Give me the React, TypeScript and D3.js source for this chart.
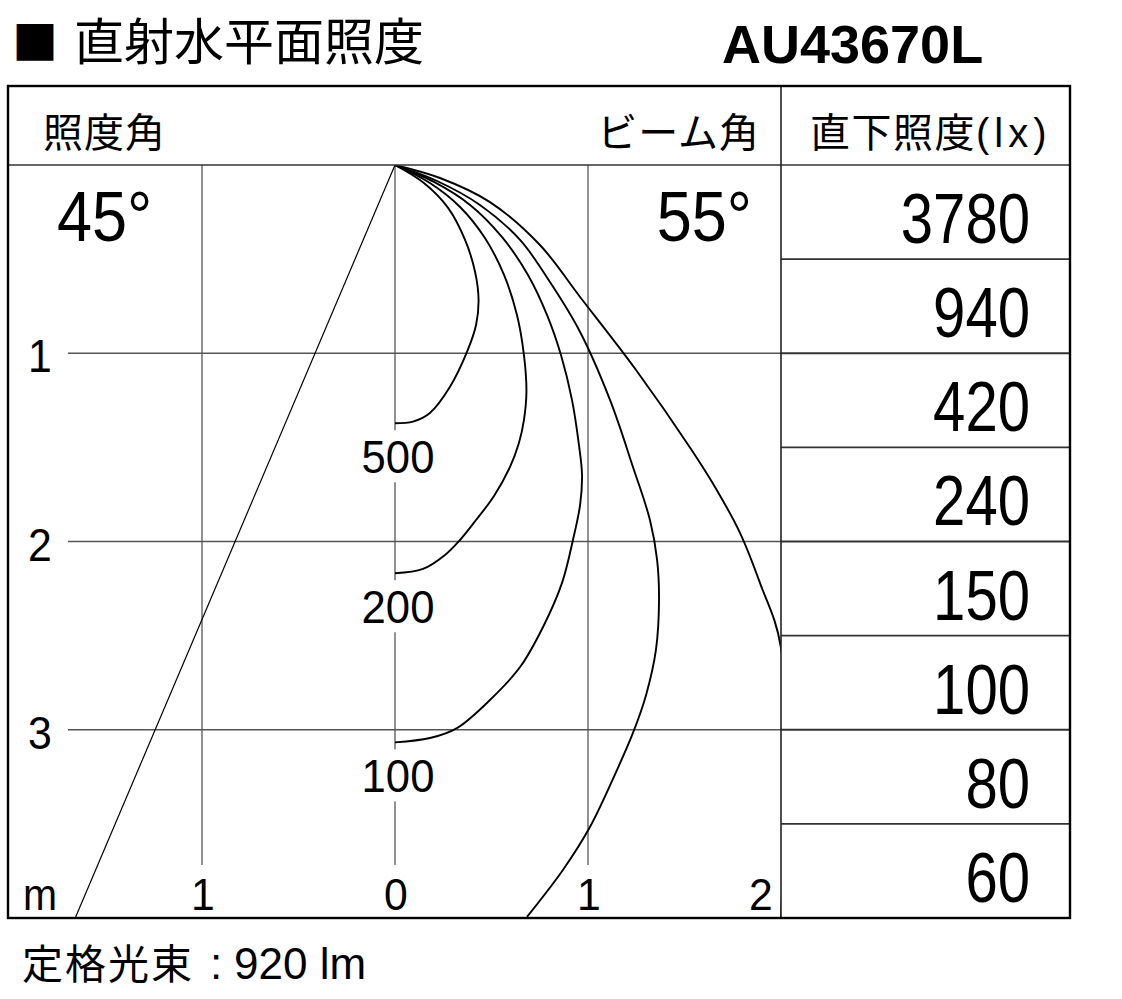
import React from 'react';
import * as d3 from 'd3';

// ---- content ----
const titleText = '直射水平面照度';
const modelName = 'AU43670L';
const illuminanceAngle = 45; // 照度角 (deg)
const beamAngle = 55; // ビーム角 (deg)
const centerLux = ['3780', '940', '420', '240', '150', '100', '80', '60'];
const depthTicks = [1, 2, 3];
const widthTicks = [-1, 0, 1, 2];
const ratedFlux = 920;

// isolux contours: [horizontal distance (m), depth below fixture (m)]
const lux500: [number, number][] = [
  [0, 0], [0.15, 0.096], [0.275, 0.228], [0.363, 0.398], [0.415, 0.568],
  [0.433, 0.717], [0.42, 0.85], [0.373, 0.993], [0.285, 1.178], [0.181, 1.317],
  [0.093, 1.363], [0, 1.372],
];
const lux200: [number, number][] = [
  [0, 0], [0.181, 0.096], [0.337, 0.223], [0.466, 0.388], [0.565, 0.584],
  [0.632, 0.797], [0.668, 1.009], [0.681, 1.206], [0.668, 1.355], [0.642, 1.477],
  [0.596, 1.604], [0.513, 1.758], [0.42, 1.886], [0.337, 1.992], [0.259, 2.072],
  [0.145, 2.146], [0, 2.169],
];
const lux100: [number, number][] = [
  [0, 0], [0.202, 0.09], [0.389, 0.212], [0.554, 0.382], [0.689, 0.584],
  [0.788, 0.797], [0.86, 1.009], [0.917, 1.248], [0.953, 1.487], [0.969, 1.647],
  [0.959, 1.806], [0.922, 1.992], [0.865, 2.221], [0.767, 2.454], [0.648, 2.667],
  [0.492, 2.842], [0.321, 2.991], [0.181, 3.044], [0, 3.067],
];
const lux50: [number, number][] = [
  [0, 0], [0.218, 0.085], [0.44, 0.212], [0.648, 0.398], [0.803, 0.622],
  [0.959, 0.887], [1.114, 1.248], [1.233, 1.604], [1.321, 1.886], [1.358, 2.098],
  [1.368, 2.311], [1.352, 2.576], [1.301, 2.815], [1.233, 3.017], [1.15, 3.214],
  [1.01, 3.517], [0.87, 3.745], [0.684, 3.994],
];
const lux20: [number, number][] = [
  [0, 0], [0.233, 0.069], [0.492, 0.197], [0.751, 0.425], [0.959, 0.701],
  [1.249, 1.089], [1.537, 1.514], [1.667, 1.726], [1.788, 1.955], [1.891, 2.22],
  [2.0, 2.566], [2.0, 4.0],
];

const contours = [
  { label: '500', points: lux500 },
  { label: '200', points: lux200 },
  { label: '100', points: lux100 },
  { label: '', points: lux50 },
  { label: '', points: lux20 },
];

// ---- layout ----
const W = 1122;
const H = 999;
const frameL = 8;
const frameT = 86;
const frameR = 1070;
const frameB = 918;
const headerB = 165;
const tableL = 781;

const CJK = '"Noto Sans CJK JP", "Noto Sans CJK SC", sans-serif';
const LAT = '"Liberation Sans", Arial, sans-serif';

export default function App() {
  const x = d3.scaleLinear().domain([-2, 2]).range([9, tableL]);
  const y = d3.scaleLinear().domain([0, 4]).range([headerB, frameB]);
  const rows = d3
    .scaleBand<number>()
    .domain(centerLux.map((_, i) => i))
    .range([headerB, frameB]);

  const line = d3
    .line<[number, number]>()
    .x((d) => x(d[0]))
    .y((d) => y(d[1]))
    .curve(d3.curveCatmullRom.alpha(0.5));

  const halfAngle = ((illuminanceAngle / 2) * Math.PI) / 180;
  const edgeX = -Math.tan(halfAngle) * 4;

  const gridStop = frameB - 53;

  return (
    <svg
      width={W}
      height={H}
      viewBox={`0 0 ${W} ${H}`}
      style={{ position: 'absolute', left: 0, top: 0, display: 'block', background: '#fff' }}
    >
      <defs>
        <clipPath id="plotClip">
          <rect x={x(-2)} y={headerB} width={x(2) - x(-2)} height={frameB - headerB} />
        </clipPath>
      </defs>
      <rect x={0} y={0} width={W} height={H} fill="#fff" />

      {/* title row */}
      <text x={12} y={59} fontFamily={CJK} fontSize={46} fill="#000">■</text>
      <text x={74} y={60} fontFamily={CJK} fontSize={50} fill="#000">{titleText}</text>
      <text x={722} y={63} fontFamily={LAT} fontWeight="bold" fontSize={54} fill="#000">{modelName}</text>

      {/* grid */}
      {depthTicks.map((d) => (
        <line key={'h' + d} x1={68} x2={tableL} y1={y(d)} y2={y(d)} stroke="#555" strokeWidth={1.3} />
      ))}
      {widthTicks.filter((d) => d < 2).map((d) => (
        <line key={'v' + d} x1={x(d)} x2={x(d)} y1={headerB} y2={gridStop} stroke="#555" strokeWidth={1.3} />
      ))}

      {/* illuminance angle boundary */}
      <line x1={x(0)} y1={y(0)} x2={x(edgeX)} y2={y(4)} stroke="#000" strokeWidth={1.2} />

      {/* isolux curves */}
      <g clipPath="url(#plotClip)">
        {contours.map((c, i) => (
          <path key={i} d={line(c.points) || ''} fill="none" stroke="#000" strokeWidth={1.9} />
        ))}
      </g>

      {/* contour labels */}
      {contours
        .filter((c) => c.label)
        .map((c) => {
          const end = c.points[c.points.length - 1];
          const ey = y(end[1]);
          return (
            <g key={c.label}>
              <rect x={x(0) - 4} y={ey + 7} width={8} height={52} fill="#fff" />
              <text
                transform={`translate(${x(0) + 3},${ey + 50}) scale(0.95,1)`}
                textAnchor="middle"
                fontFamily={LAT}
                fontSize={46}
                fill="#000"
              >
                {c.label}
              </text>
            </g>
          );
        })}

      {/* depth labels */}
      {depthTicks.map((d) => (
        <text
          key={'dl' + d}
          transform={`translate(40,${y(d) + 19}) scale(0.93,1)`}
          textAnchor="middle"
          fontFamily={LAT}
          fontSize={46}
          fill="#000"
        >
          {d}
        </text>
      ))}

      {/* width labels */}
      <text transform={`translate(23,910) scale(0.93,1)`} fontFamily={LAT} fontSize={44} fill="#000">m</text>
      {widthTicks.map((d) => (
        <text
          key={'wl' + d}
          transform={`translate(${d === 2 ? x(d) - 20 : x(d) + 1},910) scale(0.95,1)`}
          textAnchor="middle"
          fontFamily={LAT}
          fontSize={45}
          fill="#000"
        >
          {Math.abs(d)}
        </text>
      ))}

      {/* header row */}
      <line x1={frameL} x2={frameR} y1={headerB} y2={headerB} stroke="#333" strokeWidth={1.6} />
      <text x={43} y={147} fontFamily={CJK} fontSize={40} letterSpacing={1} fill="#000">照度角</text>
      <text x={760} y={147} textAnchor="end" fontFamily={CJK} fontSize={40} letterSpacing={1} fill="#000">ビーム角</text>
      <text x={810} y={147} fontFamily={CJK} fontSize={40} fill="#000">
        <tspan letterSpacing={1.5}>直下照度</tspan>
        <tspan fontFamily={LAT} fontSize={40} letterSpacing={5}>(lx)</tspan>
      </text>

      {/* angle values */}
      <text transform={`translate(57,241) scale(0.9,1)`} fontFamily={LAT} fontSize={70} fill="#000">
        {illuminanceAngle}°
      </text>
      <text transform={`translate(752,241) scale(0.9,1)`} textAnchor="end" fontFamily={LAT} fontSize={70} fill="#000">
        {beamAngle}°
      </text>

      {/* direct-below illuminance table */}
      {centerLux.slice(1).map((_, i) => (
        <line
          key={'r' + i}
          x1={tableL}
          x2={frameR}
          y1={rows(i + 1)}
          y2={rows(i + 1)}
          stroke="#333"
          strokeWidth={1.8}
        />
      ))}
      {centerLux.map((v, i) => (
        <text
          key={'t' + i}
          transform={`translate(1030,${(rows(i) as number) + 78}) scale(0.83,1)`}
          textAnchor="end"
          fontFamily={LAT}
          fontSize={70}
          fill="#000"
        >
          {v}
        </text>
      ))}
      <line x1={tableL} x2={tableL} y1={frameT} y2={frameB} stroke="#222" strokeWidth={1.6} />

      {/* outer frame */}
      <rect
        x={frameL}
        y={frameT}
        width={frameR - frameL}
        height={frameB - frameT}
        fill="none"
        stroke="#000"
        strokeWidth={2.4}
      />

      {/* rated luminous flux */}
      <text x={22} y={979} fill="#000">
        <tspan fontFamily={CJK} fontSize={41} letterSpacing={2}>定格光束</tspan>
        <tspan x={210} fontFamily={LAT} fontSize={44}>:</tspan>
        <tspan x={234} fontFamily={LAT} fontSize={44}>{`${ratedFlux} lm`}</tspan>
      </text>
    </svg>
  );
}
